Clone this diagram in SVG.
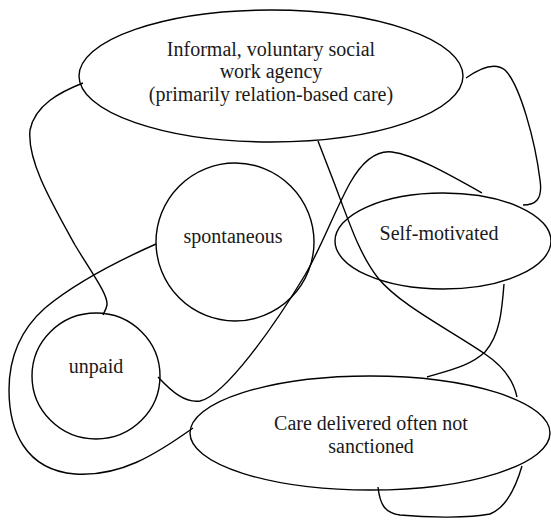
<svg xmlns="http://www.w3.org/2000/svg" width="551" height="520" viewBox="0 0 551 520">
<style>
.n{fill:none;stroke:#000;stroke-width:1.4}
.c{fill:none;stroke:#000;stroke-width:1.4}
text{font-family:"Liberation Serif","Times New Roman",serif;font-size:20px;fill:#1a1a1a;text-anchor:middle}
</style>
<rect width="551" height="520" fill="#fff"/>
<g id="connectors">
<path class="c" d="M83,83 C60,92 35,105 30,130 C27,160 50,200 75,245 C95,278 108,295 107,305 C106,310 104,312 103,315"/>
<path class="c" d="M156,244 C120,260 75,283 45,308 C18,332 9,360 9,390 C9,430 25,470 75,474 C120,477 155,455 193,428"/>
<path class="c" d="M158,377 C172,392 185,403 200,401 C225,396 275,325 305,275 C320,250 335,210 350,183 C362,162 375,150 392,152 C415,155 450,175 482,193"/>
<path class="c" d="M318,141 L335,185 C350,225 360,255 378,278 C400,305 450,330 485,354 C500,364 513,378 517,397"/>
<path class="c" d="M466,78 C480,68 495,62 505,70 C520,85 535,140 540,180 C543,200 535,205 523,205"/>
<path class="c" d="M504,284 C502,310 500,335 485,352 C470,366 450,370 427,377"/>
<path class="c" d="M378,487 C380,505 385,513 400,515 C430,518 470,518 490,514 C505,508 515,490 522,466"/>
</g>
<g id="agency">
<ellipse class="n" cx="271" cy="76" rx="192" ry="66"/>
<text x="271" y="56">Informal, voluntary social</text>
<text x="271" y="78">work agency</text>
<text x="271" y="101">(primarily relation-based care)</text>
</g>
<g id="spontaneous">
<circle class="n" cx="235" cy="242" r="79"/>
<text x="233" y="243">spontaneous</text>
</g>
<g id="unpaid">
<ellipse class="n" cx="96" cy="376" rx="64" ry="63"/>
<text x="96" y="373">unpaid</text>
</g>
<g id="selfmotivated">
<ellipse class="n" cx="443" cy="241" rx="108" ry="48"/>
<text x="439" y="240">Self-motivated</text>
</g>
<g id="care">
<ellipse class="n" cx="370" cy="433" rx="180" ry="57"/>
<text x="371" y="430">Care delivered often not</text>
<text x="371" y="453">sanctioned</text>
</g>
</svg>
